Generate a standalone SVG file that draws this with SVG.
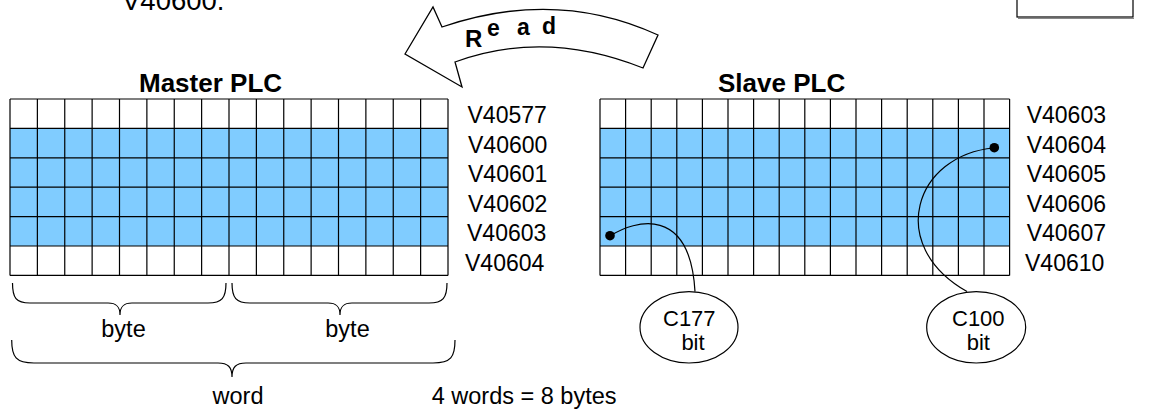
<svg xmlns="http://www.w3.org/2000/svg" width="1150" height="410" viewBox="0 0 1150 410">
<style>
text{font-family:"Liberation Sans",Arial,sans-serif;fill:#000}
.lbl{font-size:23px}
.t{font-size:23.5px}
.e{font-size:22px}
.hd{font-size:26px;font-weight:bold}
.rd{font-weight:bold;font-size:23px}
.grid{fill:none;stroke:#000;stroke-width:1.2}
.blue{fill:#80CCFF}
.wht{fill:#fff}
.ln{fill:none;stroke:#000;stroke-width:1.2}
</style>
<rect width="1150" height="410" fill="#fff"/>

<g id="caption-top">
<text x="122" y="10" style="font-size:27.5px">V40600.</text>
</g>
<g id="corner-box">
<rect x="1017" y="-10" width="116" height="27" fill="none" stroke="#000" stroke-width="1.2"/>
<line x1="1018" y1="18.5" x2="1134" y2="18.5" stroke="#888" stroke-width="1"/>
</g>

<g id="read-arrow">
<path d="M405,54 L433,7 L442,27 Q556,-12 658,35 L643,68 Q545,29 455,62 L462,87 Z" fill="#fff" stroke="#000" stroke-width="1.3" stroke-linejoin="miter"/>
<text x="465" y="47" class="rd" style="font-size:24px">R</text>
<text x="487" y="36" class="rd">e</text>
<text x="517" y="34.5" class="rd">a</text>
<text x="542" y="33.5" class="rd">d</text>
</g>

<g id="master-plc">
<text x="139" y="91.7" class="hd">Master PLC</text>
<rect x="10" y="99" width="438" height="29.4" class="wht"/>
<rect x="10" y="128.4" width="438" height="117.6" class="blue"/>
<rect x="10" y="246" width="438" height="29.4" class="wht"/>
<path class="grid" d="M10,99V275.4M37.375,99V275.4M64.75,99V275.4M92.125,99V275.4M119.5,99V275.4M146.875,99V275.4M174.25,99V275.4M201.625,99V275.4M229,99V275.4M256.375,99V275.4M283.75,99V275.4M311.125,99V275.4M338.5,99V275.4M365.875,99V275.4M393.25,99V275.4M420.625,99V275.4M448,99V275.4M10,99H448M10,128.4H448M10,157.8H448M10,187.2H448M10,216.6H448M10,246H448M10,275.4H448"/>
<text x="467.5" y="123" class="lbl">V40577</text>
<text x="468" y="152.6" class="lbl">V40600</text>
<text x="468" y="182.2" class="lbl">V40601</text>
<text x="468" y="211.8" class="lbl">V40602</text>
<text x="467" y="241.4" class="lbl">V40603</text>
<text x="465" y="271" class="lbl">V40604</text>
</g>

<g id="slave-plc">
<text x="718" y="91.7" class="hd">Slave PLC</text>
<rect x="600" y="99" width="409.6" height="29.4" class="wht"/>
<rect x="600" y="128.4" width="409.6" height="117.6" class="blue"/>
<rect x="600" y="246" width="409.6" height="29.4" class="wht"/>
<path class="grid" d="M600,99V275.4M625.6,99V275.4M651.2,99V275.4M676.8,99V275.4M702.4,99V275.4M728,99V275.4M753.6,99V275.4M779.2,99V275.4M804.8,99V275.4M830.4,99V275.4M856,99V275.4M881.6,99V275.4M907.2,99V275.4M932.8,99V275.4M958.4,99V275.4M984,99V275.4M1009.6,99V275.4M600,99H1009.6M600,128.4H1009.6M600,157.8H1009.6M600,187.2H1009.6M600,216.6H1009.6M600,246H1009.6M600,275.4H1009.6"/>
<text x="1026.7" y="123" class="lbl">V40603</text>
<text x="1026.7" y="152.6" class="lbl">V40604</text>
<text x="1026.7" y="182.2" class="lbl">V40605</text>
<text x="1026.7" y="211.8" class="lbl">V40606</text>
<text x="1026.7" y="241.4" class="lbl">V40607</text>
<text x="1025" y="271" class="lbl">V40610</text>
</g>

<g id="braces">
<path class="ln" d="M12.5,283 C12.5,298 16,303 30,303 H108 C116,303 120,306 120,315 C120,306 124,303 132,303 H208 C222,303 226,298 226,283"/>
<path class="ln" d="M232,283 C232,298 236,303 250,303 H328 C336,303 340,306 340,315 C340,306 344,303 352,303 H429 C443,303 447,298 447,283"/>
<path class="ln" d="M11.7,340 C11.7,357 16,363 34,363 H218 C228,363 232,367 232,377 C232,367 236,363 246,363 H433 C451,363 455,357 455,340"/>
<text x="123.5" y="336.7" class="t" text-anchor="middle">byte</text>
<text x="347.5" y="336.7" class="t" text-anchor="middle">byte</text>
<text x="238" y="403.5" class="t" text-anchor="middle">word</text>
<text x="431.7" y="404" class="t">4 words = 8 bytes</text>
</g>

<g id="c177">
<ellipse cx="689" cy="327.3" rx="49" ry="35.7" fill="#fff" stroke="#000" stroke-width="1.2"/>
<text x="689.3" y="326" class="e" text-anchor="middle">C177</text>
<text x="693" y="350" class="e" text-anchor="middle">bit</text>
</g>
<g id="c100">
<ellipse cx="976.2" cy="327.3" rx="49.5" ry="35.7" fill="#fff" stroke="#000" stroke-width="1.2"/>
<text x="978.3" y="326" class="e" text-anchor="middle">C100</text>
<text x="978.3" y="350" class="e" text-anchor="middle">bit</text>
</g>

<g id="connectors">
<path class="ln" d="M610,236 C635,220 690,205 695,291.6"/>
<path class="ln" d="M994,148 C915,155 885,245 967,291.6"/>
<circle cx="610" cy="235.7" r="4.8" fill="#000"/>
<circle cx="994.3" cy="147.7" r="4.8" fill="#000"/>
</g>
</svg>
